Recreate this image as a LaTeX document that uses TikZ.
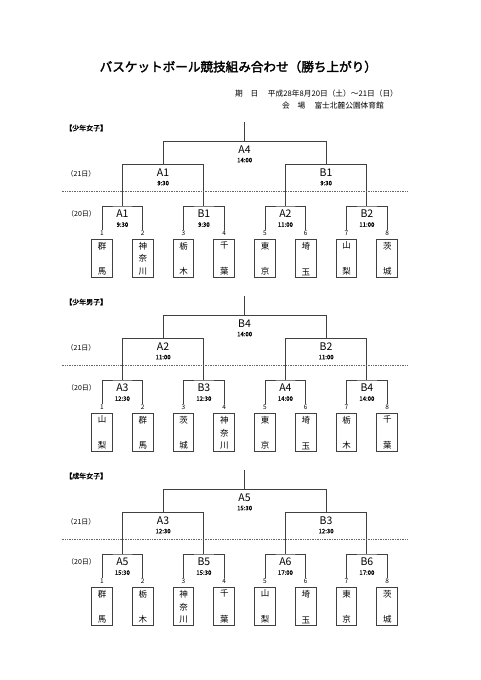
\documentclass[tikz,border=0pt]{standalone}
\usepackage{fontspec}
\setmainfont{Noto Sans CJK JP}
\newfontfamily\jpb[FakeBold=1.5]{Noto Sans CJK JP}
\newfontfamily\jpm[FakeBold=0.6]{Noto Sans CJK JP}
\newfontfamily\jpt[FakeBold=2.2]{Noto Sans CJK JP}
\usetikzlibrary{calc}
\tikzset{
  ln/.style={draw=black!75, line width=1pt},
  rnd/.style={font=\fontsize{10.5}{10.5}\selectfont, inner sep=0pt},
  tm/.style={font=\jpm\fontsize{6}{6}\selectfont, inner sep=0pt},
  num/.style={font=\fontsize{6.5}{6.5}\selectfont, inner sep=0pt},
  teambox/.style={draw=black!75, line width=1pt, minimum width=20.7pt, minimum height=37.7pt, inner sep=0pt},
  daylbl/.style={font=\fontsize{7}{7}\selectfont, inner sep=0pt},
  seclbl/.style={font=\jpb\fontsize{7}{7}\selectfont, inner sep=0pt, anchor=west},
  dashln/.style={draw=black!60, line width=1pt, dash pattern=on 1pt off 0.7pt},
  info/.style={font=\fontsize{7.7}{8}\selectfont, inner sep=0pt, anchor=west},
}
\newcommand\twoch[2]{\parbox[c][33pt][s]{12pt}{\fontsize{8.5}{8.5}\selectfont\centering #1\par\vfill #2\par}}
\newcommand\threech[3]{\parbox[c][33pt][s]{12pt}{\fontsize{8.5}{8.5}\selectfont\centering #1\par\vfill #2\par\vfill #3\par}}
\newcommand\drawsec[6]{% #1 prefix, #2 offset, #3 section title, #4 rounds, #5 teams
\begin{scope}[shift={(0,#2)}]
  \node[seclbl] (#1title) at (65,128) {#3};
  \coordinate (#1root) at (244.6,122);
  \coordinate (#1T) at (244.6,141.5);
  \coordinate (#1Q1) at (163.1,164.5);
  \coordinate (#1Q2) at (326.1,164.5);
  \foreach \k in {1,...,4} \coordinate (#1P\k) at ({122.375+81.5*(\k-1)},206);
  \foreach \k in {1,...,8} \coordinate (#1L\k) at ({102+40.75*(\k-1)},229.5);
  \draw[ln] (#1root) -- (#1T);
  \draw[ln] (#1Q1) |- (#1T) -| (#1Q2);
  \draw[ln] (#1P1) |- (#1Q1) -| (#1P2);
  \draw[ln] (#1P3) |- (#1Q2) -| (#1P4);
  \draw[ln] (#1L1) |- (#1P1) -| (#1L2);
  \draw[ln] (#1L3) |- (#1P2) -| (#1L4);
  \draw[ln] (#1L5) |- (#1P3) -| (#1L6);
  \draw[ln] (#1L7) |- (#1P4) -| (#1L8);
  \foreach \cc/\lab/\tim in {#4} {
    \node[rnd] (#1\cc lab) at ($(#1\cc)+(0,7.8)$) {\lab};
    \node[tm] (#1\cc tim) at ($(#1\cc)+(0,18.6)$) {\tim};
  }
  \coordinate (#1dl) at (61.7,191);
  \coordinate (#1dr) at (407.7,191);
  \draw[dashln] (#1dl) -- (#1dr);
  \node[daylbl] (#1d21) at (81,174) {（21日）};
  \node[daylbl] (#1d20) at (81.5,213.7) {（20日）};
  \foreach \tn [count=\i] in {#5} {
    \node[num] (#1num\i) at ($(#1L\i)+(0,3.3)$) {\i};
    \node[teambox] (#1team\i) at ($(#1L\i)+(0,29.3)$) {\tn};
  }
\end{scope}}
\begin{document}
\begin{tikzpicture}[x=1pt,y=-1pt]
\useasboundingbox[fill=white] (0,0) rectangle (481,680);
\node[font=\jpt\fontsize{12.6}{13}\selectfont, inner sep=0pt] (title) at (238.3,66.7) {バスケットボール競技組み合わせ（勝ち上がり）};
\node[info] (kijitsu) at (235,93.3) {期　日};
\node[info] (kijitsuv) at (267.7,93.3) {平成28年8月20日（土）～21日（日）};
\node[info] (kaijo) at (282,105.7) {会　場};
\node[info] (kaijov) at (314.3,105.7) {富士北麓公園体育館};
\drawsec{a}{0}{【少年女子】}{T/A4/14:00,Q1/A1/9:30,Q2/B1/9:30,P1/A1/9:30,P2/B1/9:30,P3/A2/11:00,P4/B2/11:00}{\twoch{群}{馬},\threech{神}{奈}{川},\twoch{栃}{木},\twoch{千}{葉},\twoch{東}{京},\twoch{埼}{玉},\twoch{山}{梨},\twoch{茨}{城}}{}
\drawsec{b}{174}{【少年男子】}{T/B4/14:00,Q1/A2/11:00,Q2/B2/11:00,P1/A3/12:30,P2/B3/12:30,P3/A4/14:00,P4/B4/14:00}{\twoch{山}{梨},\twoch{群}{馬},\twoch{茨}{城},\threech{神}{奈}{川},\twoch{東}{京},\twoch{埼}{玉},\twoch{栃}{木},\twoch{千}{葉}}{}
\drawsec{c}{348}{【成年女子】}{T/A5/15:30,Q1/A3/12:30,Q2/B3/12:30,P1/A5/15:30,P2/B5/15:30,P3/A6/17:00,P4/B6/17:00}{\twoch{群}{馬},\twoch{栃}{木},\threech{神}{奈}{川},\twoch{千}{葉},\twoch{山}{梨},\twoch{埼}{玉},\twoch{東}{京},\twoch{茨}{城}}{}
\end{tikzpicture}
\end{document}
